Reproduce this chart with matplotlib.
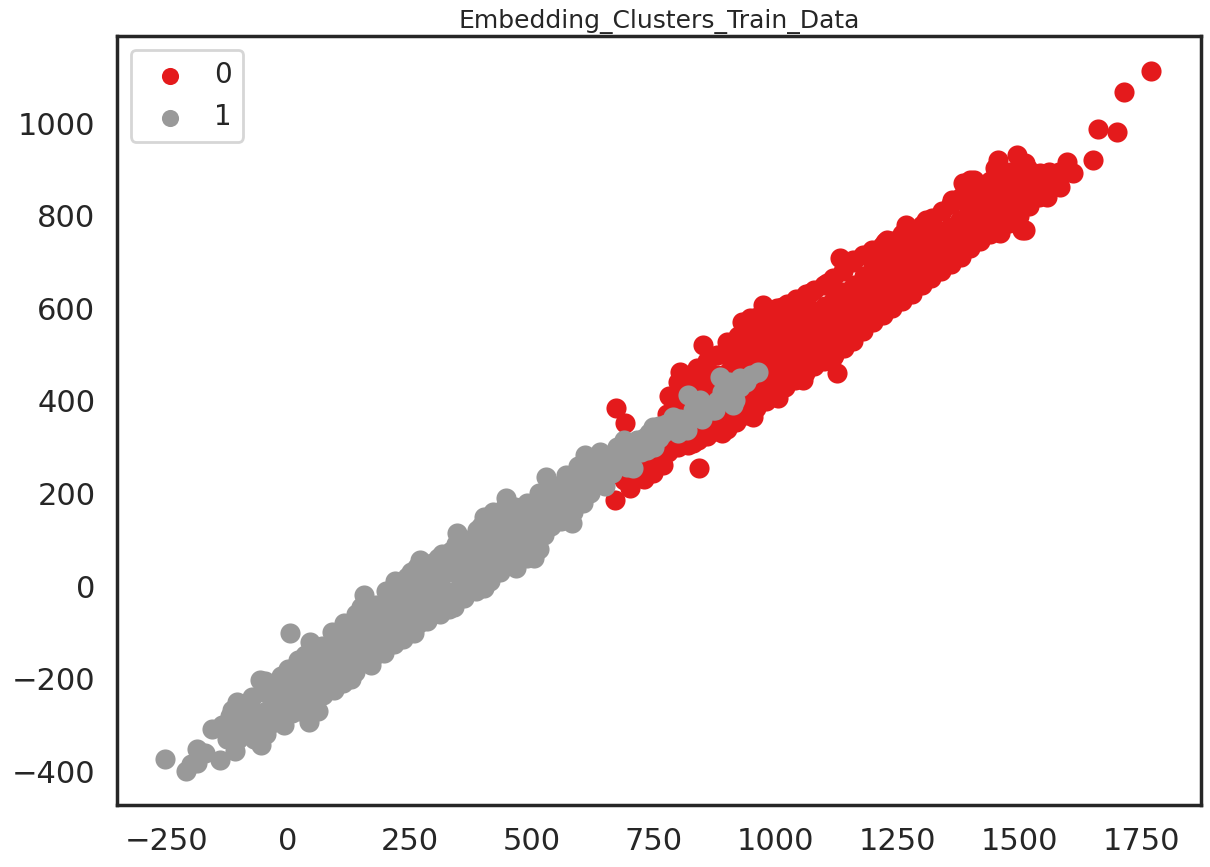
import numpy as np
import matplotlib
matplotlib.use("Agg")
import matplotlib.pyplot as plt
import seaborn as sns

# cluster 1 (grey) points
pts_1 = np.array([
    (-252, -374), (-209, -400), (-200, -385), (-187, -382), (-187, -352), (-170, -360),
    (-156, -309), (-139, -376), (-125, -330), (-115, -268), (-109, -356), (-100, -300),
    (-95, -320), (-85, -270), (-80, -290), (-70, -330), (-55, -343), (-57, -203),
    (-50, -230), (-45, -270), (-40, -300), (-30, -250), (-25, -210), (-20, -280),
    (-10, -230), (-5, -260), (4, -102), (0, -180), (10, -200), (15, -240), (20, -160),
    (25, -270), (30, -220), (40, -180), (43, -294), (45, -120), (50, -150), (55, -240),
    (60, -200), (70, -130), (75, -170), (80, -220), (90, -100), (94, -225), (100, -150),
    (105, -190), (115, -80), (120, -130), (125, -170), (130, -200), (140, -60),
    (145, -110), (150, -150), (156, -19), (160, -80), (165, -130), (170, -170),
    (180, -40), (185, -100), (190, -140), (197, -145), (200, -10), (205, -60),
    (210, -110), (220, 10), (225, -30), (230, -80), (235, -115), (245, 20), (250, -20),
    (255, -60), (258, -102), (265, 40), (271, 56), (275, 0), (280, -40), (285, -75),
    (295, 50), (300, 10), (305, -30), (315, 70), (320, 30), (325, -10), (330, -50),
    (340, -45), (345, 90), (347, 114), (350, 50), (355, 10), (360, -25), (370, 100),
    (375, 60), (380, 20), (385, -10), (395, 130), (400, 80), (402, -4), (402, 149),
    (410, 40), (415, 10), (420, 160), (425, 110), (430, 60), (435, 30), (445, 170),
    (447, 190), (450, 120), (455, 80), (460, 50), (468, 39), (470, 150), (475, 100),
    (480, 70), (490, 180), (495, 130), (500, 90), (505, 60), (515, 200), (520, 150),
    (525, 110), (530, 236), (535, 170), (540, 130), (550, 215), (555, 180), (560, 140),
    (570, 240), (575, 200), (582, 136), (585, 160), (595, 260), (600, 220), (605, 180),
    (609, 283), (615, 240), (620, 200), (630, 270), (635, 230), (640, 290), (645, 250),
    (650, 215), (660, 280), (665, 245), (675, 300), (680, 265), (690, 315), (695, 257),
    (700, 290), (708, 255), (716, 315), (725, 290), (736, 294), (740, 330), (749, 343),
    (750, 300), (760, 320), (775, 350), (790, 365), (800, 330), (816, 352), (818, 337),
    (820, 413), (830, 380), (845, 402), (850, 360), (872, 380), (876, 380), (886, 452),
    (890, 420), (913, 391), (917, 402), (927, 430), (927, 449), (964, 462),
    (-135, -300), (-120, -280), (-118, -320), (-105, -250), (-102, -330), (-90, -265),
    (-88, -300), (-75, -240), (-72, -310), (-65, -275), (-48, -205), (-45, -320),
    (-35, -275), (-32, -225), (-15, -195), (-12, -255), (-8, -300), (5, -215), (8, -275),
    (18, -185), (22, -225), (35, -150), (35, -255), (48, -210), (58, -135), (62, -270),
    (68, -180), (72, -235), (85, -150), (88, -195), (95, -120), (110, -110), (112, -160),
    (112, -210), (128, -95), (135, -140), (138, -185), (150, -45), (152, -90),
    (155, -125), (160, -165), (172, -70), (175, -110), (178, -150), (192, -55), (195, -90),
    (215, -30), (215, -75), (218, -125), (232, -5), (238, -45), (240, -95), (252, 30),
    (260, -10), (262, -40), (268, -80), (285, 30), (288, -10), (290, -55), (308, 60),
    (310, 15), (312, -60), (335, 75), (336, 30), (338, -20), (362, 95), (365, 40),
    (365, 0), (388, 120), (390, 70), (392, 40), (398, 5), (412, 130), (415, 90),
    (418, 60), (438, 150), (440, 90), (442, 55), (462, 130), (465, 170), (470, 75),
    (485, 120), (488, 150), (492, 95), (510, 170), (512, 120), (515, 80), (528, 140),
    (532, 195), (545, 160), (548, 195), (565, 175), (568, 210), (578, 225), (590, 195),
    (592, 240), (610, 210), (612, 255), (625, 225), (628, 260), (650, 255), (655, 280),
    (670, 265), (685, 290), (705, 300), (720, 300), (730, 320), (760, 345), (770, 330),
    (785, 340), (805, 360), (835, 365), (860, 380), (880, 400), (900, 420), (905, 440),
    (940, 440), (950, 455),
    (380, 50), (395, 95), (420, 100), (430, 130), (455, 110), (460, 140), (478, 130),
    (500, 120), (505, 150), (520, 180), (490, 60), (505, 100), (530, 170), (540, 200),
    (555, 155), (372, 80), (358, 65), (340, 55), (320, 50), (300, 30), (280, 10),
    (260, 10), (245, -20), (225, -50), (200, -80), (180, -90), (160, -110), (140, -120),
    (120, -150), (100, -170), (80, -190), (60, -220), (40, -230), (20, -250), (0, -250),
    (-20, -260),
])

# cluster 0 (red) points
pts_0 = np.array([
    # loose points at the lower end and edges
    (671, 186), (673, 385), (691, 352), (702, 212), (708, 240), (720, 262), (730, 232),
    (749, 244), (760, 282), (770, 262), (690, 230), (715, 240), (740, 265),
    (804, 462), (843, 255), (851, 521), (900, 527),
    (931, 570), (948, 579), (974, 607), (1013, 603), (1071, 633), (1106, 654),
    (831, 309), (890, 330), (954, 365), (1005, 406), (1056, 445), (1118, 495), (1126, 460),
    (1132, 708), (1159, 704), (1225, 743), (1229, 747), (1268, 780), (1270, 776),
    (1303, 747), (1309, 791), (1331, 769), (1362, 834), (1378, 791), (1385, 871),
    (1399, 877), (1407, 877), (1419, 830), (1436, 866), (1450, 903), (1456, 920),
    (1475, 855), (1495, 931), (1512, 914), (1543, 892), (1557, 840), (1584, 862),
    (1598, 916), (1610, 892), (1651, 920), (1662, 987), (1701, 981), (1715, 1067),
    (1770, 1113), (1502, 819), (1512, 769), (1460, 763), (1506, 769),
    # main body
    (780, 290), (782, 330), (778, 372), (781, 410),
    (800, 300), (802, 342), (798, 380), (801, 420), (799, 440),
    (820, 305), (822, 346), (818, 385), (821, 425), (819, 452),
    (840, 315), (842, 355), (838, 396), (841, 436), (839, 470),
    (860, 325), (862, 366), (858, 405), (861, 445), (859, 485),
    (880, 335), (882, 375), (878, 416), (881, 455), (879, 500),
    (900, 340), (902, 380), (898, 421), (901, 460), (899, 498), (903, 515),
    (920, 355), (922, 395), (918, 435), (921, 476), (919, 510), (923, 540),
    (940, 370), (942, 410), (938, 450), (941, 490), (939, 525), (943, 560),
    (960, 385), (962, 425), (958, 466), (961, 505), (959, 545), (963, 580),
    (980, 400), (982, 440), (978, 480), (981, 520), (979, 556), (983, 590),
    (1000, 420), (1002, 460), (998, 500), (1001, 540), (999, 575), (1003, 600),
    (1020, 430), (1022, 470), (1018, 510), (1021, 550), (1019, 585), (1023, 610),
    (1040, 445), (1042, 485), (1038, 525), (1041, 565), (1039, 600), (1043, 620),
    (1060, 460), (1062, 500), (1058, 540), (1061, 580), (1059, 610), (1063, 630),
    (1080, 475), (1082, 515), (1078, 555), (1081, 595), (1079, 640),
    (1100, 485), (1102, 525), (1098, 565), (1101, 605), (1099, 650),
    (1120, 500), (1122, 540), (1118, 580), (1121, 620), (1119, 665),
    (1140, 515), (1142, 555), (1138, 595), (1141, 635), (1139, 680),
    (1160, 530), (1162, 570), (1158, 610), (1161, 650), (1159, 700),
    (1180, 550), (1182, 590), (1178, 630), (1181, 670), (1179, 715),
    (1200, 570), (1202, 610), (1198, 650), (1201, 690), (1199, 725),
    (1220, 585), (1222, 625), (1218, 665), (1221, 705), (1219, 735),
    (1240, 600), (1242, 640), (1238, 680), (1241, 720), (1239, 745),
    (1260, 615), (1262, 655), (1258, 695), (1261, 735), (1259, 760),
    (1280, 630), (1282, 670), (1278, 710), (1281, 750), (1279, 770),
    (1300, 650), (1302, 690), (1298, 730), (1301, 780),
    (1320, 665), (1322, 705), (1318, 745), (1321, 795),
    (1340, 680), (1342, 720), (1338, 760), (1341, 810),
    (1360, 695), (1362, 735), (1358, 775), (1361, 825),
    (1380, 710), (1382, 750), (1378, 790), (1381, 840),
    (1400, 730), (1402, 770), (1398, 810), (1401, 855),
    (1420, 745), (1422, 785), (1418, 825), (1421, 865),
    (1440, 760), (1442, 800), (1438, 840), (1441, 875),
    (1460, 770), (1462, 810), (1458, 850), (1461, 885),
    (1480, 785), (1482, 825), (1478, 865), (1481, 895),
    (1500, 800), (1502, 840), (1498, 880), (1501, 900),
    (1520, 820), (1522, 860), (1518, 900),
    (1540, 840), (1542, 880),
    (1560, 855), (1562, 895),
    (1580, 870), (1582, 895),
])

labels = ["0", "1"]
colors = ["#e41a1c", "#999999"]

sns.set_theme(style="white", context="poster")

fig = plt.figure(figsize=(12.1, 8.67), dpi=100)
ax = fig.add_axes([117 / 1210, 1 - 805 / 867, (1201 - 117) / 1210, (805 - 36) / 867])

ax.scatter(pts_0[:, 0], pts_0[:, 1], s=210, color=colors[0], label=labels[0], linewidths=0)
ax.scatter(pts_1[:, 0], pts_1[:, 1], s=210, color=colors[1], label=labels[1], linewidths=0)

ax.set_xlim(-351, 1873)
ax.set_ylim(-473, 1188)
ax.set_xticks([-250, 0, 250, 500, 750, 1000, 1250, 1500, 1750])
ax.set_yticks([-400, -200, 0, 200, 400, 600, 800, 1000])
ax.tick_params(labelsize=22)
ax.set_title("Embedding_Clusters_Train_Data", fontsize=18, pad=6)
ax.legend(loc="upper left", markerscale=0.85, fontsize=20, handletextpad=0.6)

plt.savefig("out.png", dpi=100)
